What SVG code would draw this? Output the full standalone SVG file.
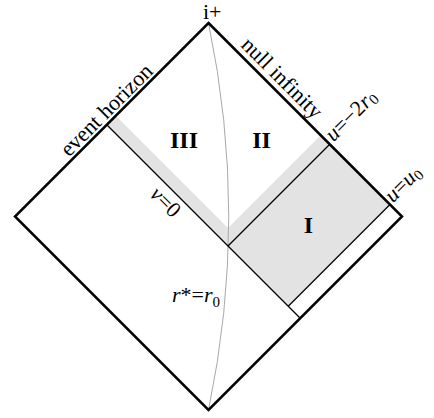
<svg xmlns="http://www.w3.org/2000/svg" width="434" height="418" viewBox="0 0 434 418">
  <style>
    .shade { fill: #e3e3e3; stroke: none; }
    .edge { fill: none; stroke: #000; stroke-width: 2.5; stroke-linejoin: miter; }
    .ray { fill: none; stroke: #000; stroke-width: 1.3; }
    .orbit { fill: none; stroke: #a8a8a8; stroke-width: 1; }
    text { font-family: "Liberation Serif", "Times New Roman", serif; font-size: 22px; fill: #000; }
    .roman { font-weight: bold; font-size: 24px; text-anchor: middle; }
    .it { font-style: italic; }
    .sub { font-size: 15px; }
  </style>

  <rect width="434" height="418" fill="#fff"/>

  <!-- shaded regions -->
  <g id="shell-band">
    <polygon class="shade" points="106.75,124.75 228,246 329.75,144.25 320.75,135.25 228,228 115.75,115.75"/>
  </g>
  <g id="region-I-fill">
    <polygon class="shade" points="228,246 329.75,144.25 390,204.5 288.25,306.25"/>
  </g>

  <!-- worldline r* = r0 -->
  <g id="worldline">
    <path class="orbit" d="M208.5,23 Q249,216.5 208.5,410"/>
  </g>

  <!-- null rays -->
  <g id="connectors">
    <line class="ray" x1="106.75" y1="124.75" x2="300.25" y2="318.25"/>
    <line class="ray" x1="228" y1="246" x2="329.75" y2="144.25"/>
    <line class="ray" x1="390" y1="204.5" x2="288.25" y2="306.25"/>
  </g>

  <!-- conformal boundary -->
  <g id="boundary">
    <polygon class="edge" points="208.5,23 402,216.5 208.5,410 15,216.5"/>
  </g>

  <!-- labels -->
  <g id="label-iplus"><text x="203" y="19" font-size="20">i+</text></g>
  <g id="label-horizon"><text x="111.5" y="115" text-anchor="middle" transform="rotate(-45 111.5 115)">event horizon</text></g>
  <g id="label-scri"><text x="277" y="83" text-anchor="middle" transform="rotate(45 277 83)">null infinity</text></g>
  <g id="label-u1"><text x="333.5" y="142.5" transform="rotate(-45 333.5 142.5)"><tspan class="it">u</tspan>=−2<tspan class="it">r</tspan><tspan class="sub" dy="3">0</tspan></text></g>
  <g id="label-u0"><text x="393" y="203.5" transform="rotate(-45 393 203.5)"><tspan class="it">u</tspan>=<tspan class="it">u</tspan><tspan class="sub" dy="3">0</tspan></text></g>
  <g id="label-v0"><text x="160.5" y="207" text-anchor="middle" transform="rotate(45 160.5 207)"><tspan class="it">v</tspan>=0</text></g>
  <g id="label-rstar"><text x="172" y="302"><tspan class="it">r</tspan>*=<tspan class="it">r</tspan><tspan class="sub" dy="5">0</tspan></text></g>
  <g id="region-III"><text class="roman" x="184" y="148">III</text></g>
  <g id="region-II"><text class="roman" x="261.5" y="148">II</text></g>
  <g id="region-I"><text class="roman" x="308.3" y="232.5">I</text></g>
</svg>
